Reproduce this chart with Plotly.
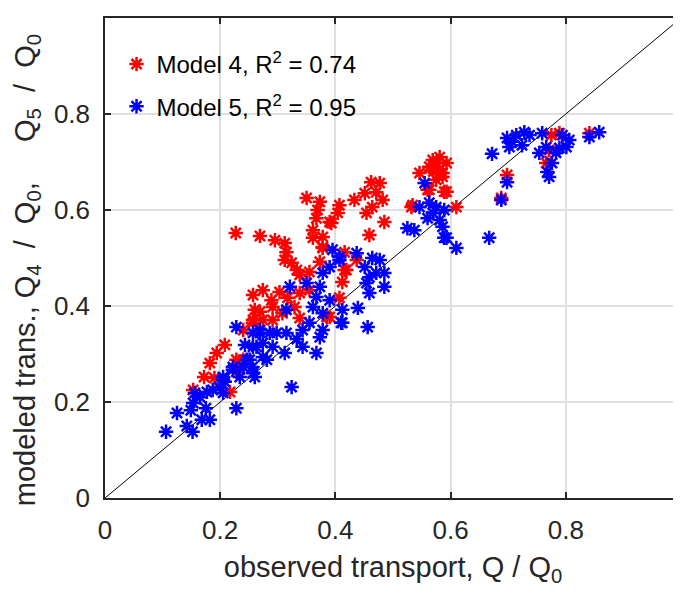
import plotly.graph_objects as go

# Model 4 (red)
x4 = [0.208,0.194,0.182,0.172,0.190,0.153,0.228,0.240,0.257,0.234,0.217,0.228,
      0.227,0.269,0.295,0.312,0.315,0.312,0.324,0.333,0.338,0.355,0.373,0.361,0.378,0.393,0.378,0.416,0.416,0.412,
      0.355,0.338,0.303,0.317,0.329,0.289,0.274,0.257,0.260,0.269,0.291,0.257,0.338,0.308,0.291,0.274,0.240,0.385,
      0.350,0.373,0.369,0.367,0.407,0.404,0.390,0.361,0.378,0.433,0.451,0.462,0.477,0.471,0.482,0.464,0.454,0.485,
      0.459,0.534,0.437,0.419,0.407,0.390,
      0.546,0.563,0.575,0.593,0.586,0.575,0.589,0.563,0.610,0.569,0.581,0.586,0.593,0.560,0.532,0.580,0.570,
      0.698,0.688,0.766,0.771,0.841,0.789,0.775]
y4 = [0.319,0.302,0.281,0.252,0.250,0.225,0.288,0.350,0.365,0.267,0.221,0.263,
      0.552,0.546,0.537,0.531,0.512,0.496,0.490,0.475,0.465,0.471,0.492,0.558,0.544,0.573,0.523,0.512,0.475,0.450,
      0.433,0.427,0.429,0.417,0.398,0.412,0.433,0.423,0.392,0.388,0.398,0.371,0.375,0.385,0.371,0.371,0.288,0.377,
      0.625,0.617,0.600,0.583,0.610,0.594,0.575,0.542,0.521,0.621,0.635,0.658,0.656,0.637,0.621,0.606,0.594,0.575,
      0.548,0.610,0.496,0.475,0.417,0.377,
      0.677,0.690,0.698,0.698,0.677,0.663,0.638,0.642,0.606,0.704,0.710,0.669,0.638,0.642,0.606,0.685,0.680,
      0.673,0.625,0.698,0.725,0.760,0.760,0.756]

# Model 5 (blue)
x5 = [0.106,0.125,0.142,0.152,0.149,0.153,0.156,0.168,0.182,0.175,0.165,0.177,0.187,0.199,0.208,0.205,0.228,
      0.222,0.234,0.240,0.228,0.243,0.260,0.251,0.263,0.269,0.274,0.256,0.324,0.321,0.315,0.350,0.373,0.367,0.361,
      0.378,0.390,0.395,0.407,0.390,0.378,0.355,0.343,0.378,0.373,0.367,0.412,0.412,0.343,0.315,0.298,0.286,0.269,
      0.257,0.274,0.257,0.312,0.333,0.246,0.222,0.257,0.205,0.205,0.281,0.291,
      0.407,0.437,0.451,0.464,0.477,0.471,0.485,0.459,0.454,0.485,0.459,0.439,0.410,0.456,0.525,0.537,0.555,0.546,
      0.563,0.569,0.575,0.560,0.581,0.586,0.593,0.610,0.589,0.589,
      0.667,0.672,0.698,0.688,0.698,0.707,0.714,0.728,0.724,0.737,0.759,0.754,0.766,0.768,0.771,0.776,0.783,0.794,
      0.806,0.801,0.789,0.841,0.858,0.702]
y5 = [0.138,0.177,0.150,0.138,0.183,0.198,0.219,0.163,0.163,0.187,0.210,0.221,0.225,0.231,0.242,0.252,0.187,
      0.267,0.252,0.273,0.356,0.319,0.252,0.288,0.315,0.344,0.294,0.273,0.231,0.440,0.392,0.448,0.440,0.419,0.398,
      0.385,0.412,0.517,0.496,0.481,0.469,0.365,0.350,0.350,0.335,0.302,0.392,0.365,0.315,0.344,0.344,0.344,0.350,
      0.344,0.323,0.315,0.302,0.331,0.288,0.273,0.260,0.246,0.219,0.288,0.315,
      0.502,0.510,0.481,0.500,0.496,0.469,0.469,0.460,0.448,0.440,0.427,0.396,0.365,0.356,0.562,0.558,0.656,0.606,
      0.615,0.594,0.606,0.583,0.579,0.565,0.542,0.521,0.600,0.542,
      0.542,0.717,0.658,0.621,0.750,0.742,0.756,0.762,0.735,0.756,0.760,0.719,0.731,0.679,0.669,0.698,0.719,0.756,
      0.746,0.731,0.729,0.752,0.762,0.731]

line_x = [0, 1]
line_y = [0, 1]
tick_vals = [0, 0.2, 0.4, 0.6, 0.8, 1]
tick_text = ["0", "0.2", "0.4", "0.6", "0.8", "1"]

font_family = "Liberation Sans, Arial, Helvetica, sans-serif"
axis_col = "#262626"
grid_col = "#dfdfdf"

fig = go.Figure()
fig.add_trace(go.Scatter(x=line_x, y=line_y, mode="lines", line=dict(color="black", width=1),
                         showlegend=False, hoverinfo="skip"))
fig.add_trace(go.Scatter(x=x4, y=y4, mode="markers", name="Model 4, R<sup>2</sup> = 0.74",
                         legendgroup="a",
                         marker=dict(symbol="asterisk-open", size=12, color="red",
                                     line=dict(color="red", width=2.5))))
fig.add_trace(go.Scatter(x=x5, y=y5, mode="markers", name="Model 5, R<sup>2</sup> = 0.95",
                         legendgroup="b",
                         marker=dict(symbol="asterisk-open", size=12, color="blue",
                                     line=dict(color="blue", width=2.5))))

axis_common = dict(range=[0, 1], tickvals=tick_vals, ticktext=tick_text, automargin=False,
                   showgrid=True, gridcolor=grid_col, gridwidth=1.5,
                   showline=True, linecolor=axis_col, linewidth=1.5, mirror="ticks",
                   ticks="inside", ticklen=6, tickwidth=1.5, tickcolor=axis_col,
                   zeroline=False, tickfont=dict(size=26, color=axis_col, family=font_family))

ytitle = ("modeled trans., Q<sub>4</sub> \u00a0/\u00a0 Q<sub>0</sub>,\u00a0\u00a0\u00a0\u00a0\u00a0"
          "Q<sub>5</sub> \u00a0/\u00a0 Q<sub>0</sub>\u00a0\u00a0\u00a0\u200b")

# page body has an 8px margin; the figure is sized so the page does not scroll vertically
fig.update_layout(
    width=673, height=582,
    margin=dict(l=97, r=0, t=10, b=92, autoexpand=False),
    paper_bgcolor="white", plot_bgcolor="white",
    font=dict(family=font_family, color=axis_col),
    xaxis=dict(**axis_common, ticklabelstandoff=8,
               title=dict(text="observed transport, Q / Q<sub>0</sub>",
                          font=dict(size=29, color=axis_col, family=font_family), standoff=13)),
    yaxis=dict(**axis_common, ticklabelstandoff=8,
               title=dict(text=ytitle,
                          font=dict(size=29, color=axis_col, family=font_family), standoff=10)),
    legend=dict(x=0.02, y=0.95, xanchor="left", yanchor="top", bgcolor="rgba(0,0,0,0)",
                font=dict(size=24, color="black", family=font_family),
                traceorder="grouped", tracegroupgap=8),
    showlegend=True,
)

fig.write_html("out.html")
